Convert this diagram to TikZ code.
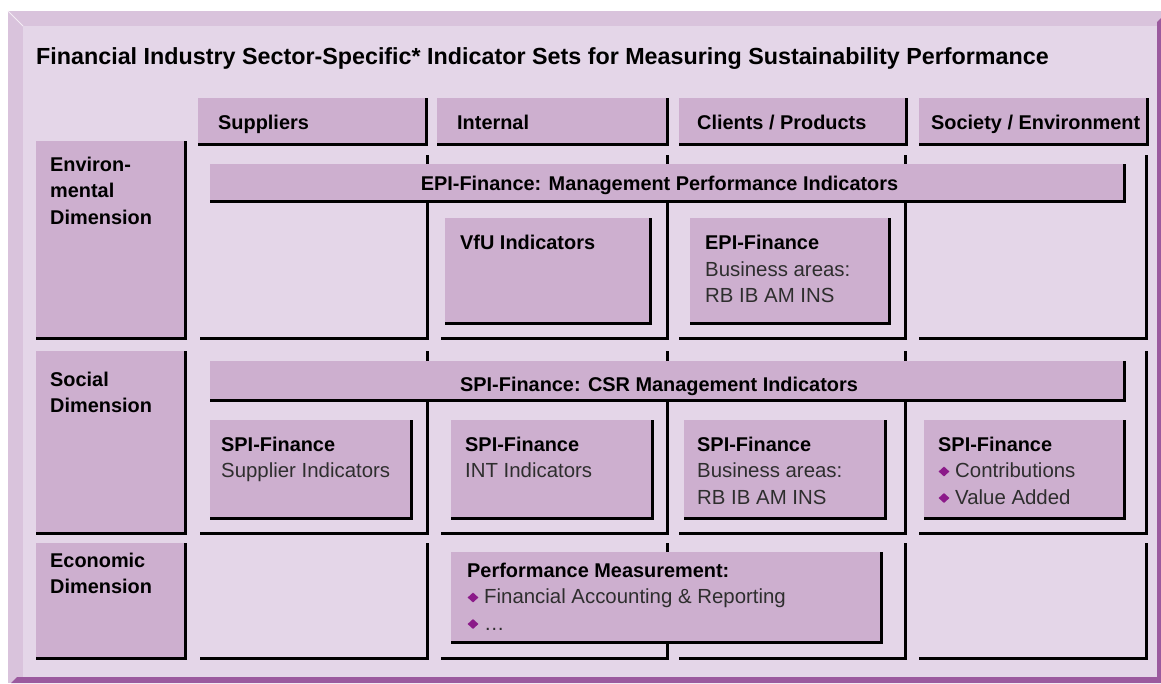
\documentclass[tikz,border=0pt]{standalone}
\usepackage{fontspec}
\setmainfont{Liberation Sans}
\usetikzlibrary{shapes.geometric}
\definecolor{panel}{HTML}{E4D6E8}
\definecolor{bevel}{HTML}{D9C3DC}
\definecolor{darkband}{HTML}{9B5A9E}
\definecolor{boxc}{HTML}{CDAFCF}
\definecolor{bulletc}{HTML}{8B1A89}
\definecolor{bodytext}{HTML}{2E2E2E}
\tikzset{
  filledbox/.style={fill=boxc, draw=none, inner sep=0pt, anchor=north west},
  emptybox/.style={fill=none, draw=none, inner sep=0pt, anchor=north west},
  edge/.style={draw=black, line width=2.4pt, line join=miter},
  titletext/.style={anchor=base west, inner sep=0pt, font=\bfseries\fontsize{23.3}{26}\selectfont},
  boldtext/.style={anchor=base west, inner sep=0pt, font=\bfseries\fontsize{19.9}{24}\selectfont},
  plaintext/.style={anchor=base west, inner sep=0pt, text=bodytext, font=\fontsize{20.4}{24}\selectfont},
  bulletmark/.style={shape=diamond, fill=bulletc, inner sep=0pt, minimum width=11pt, minimum height=10pt},
}
% name, x1, y1, x2, y2
\newcommand{\shadowbox}[5]{%
  \node[filledbox, minimum width={#4pt-#2pt}, minimum height={#5pt-#3pt}] (#1) at (#2,#3) {};
  \draw[edge] (#1.north east) -- (#1.south east) -- (#1.south west);}
\newcommand{\cellframe}[5]{%
  \node[emptybox, minimum width={#4pt-#2pt}, minimum height={#5pt-#3pt}] (#1) at (#2,#3) {};
  \draw[edge] (#1.north east) -- (#1.south east) -- (#1.south west);}
\begin{document}
\begin{tikzpicture}[x=1pt,y=-1pt]
\useasboundingbox (0,0) rectangle (1161,683);
% frame
\fill[white] (0,0) rectangle (1161,683);
\fill[bevel] (8,11) rectangle (1161,683);
\fill[darkband] (1157,22) -- (1161,18) -- (1161,683) -- (11,683) -- (17,677) -- (1157,677) -- cycle;
\fill[panel] (23,26) rectangle (1157,677);
\draw[white!70!bevel, line width=0.8pt] (8,11) -- (23,26);
% title
\node[titletext] (title) at (36,64) {Financial Industry Sector-Specific* Indicator Sets for Measuring Sustainability Performance};
% column headers
\shadowbox{hsup}{198}{98}{426}{144}
\shadowbox{hint}{437}{98}{667}{144}
\shadowbox{hcli}{679}{98}{906}{144}
\shadowbox{hsoc}{919}{98}{1147}{144}
\node[boldtext] (tsup) at (218,129) {Suppliers};
\node[boldtext] (tint) at (457,129) {Internal};
\node[boldtext] (tcli) at (697,129) {Clients / Products};
\node[boldtext] (tsoc) at (931,129) {Society / Environment};
% row labels
\shadowbox{renv}{36}{141}{185}{338}
\shadowbox{rsoc}{36}{351}{185}{533}
\shadowbox{reco}{36}{543}{185}{658}
\node[boldtext] (tenv1) at (50,171) {Environ-};
\node[boldtext] (tenv2) at (50,197.5) {mental};
\node[boldtext] (tenv3) at (50,224) {Dimension};
\node[boldtext] (tsoc1) at (50,386) {Social};
\node[boldtext] (tsoc2) at (50,412.5) {Dimension};
\node[boldtext] (teco1) at (50,567) {Economic};
\node[boldtext] (teco2) at (50,593.5) {Dimension};
% cell frames
\cellframe{c11}{200}{155}{427}{338}
\cellframe{c12}{441}{155}{667}{338}
\cellframe{c13}{679}{155}{905}{338}
\cellframe{c14}{919}{155}{1146}{338}
\cellframe{c21}{200}{351}{427}{533}
\cellframe{c22}{441}{351}{667}{533}
\cellframe{c23}{679}{351}{905}{533}
\cellframe{c24}{919}{351}{1146}{533}
\cellframe{c31}{200}{543}{427}{658}
\cellframe{c32}{441}{543}{667}{658}
\cellframe{c33}{679}{543}{905}{658}
\cellframe{c34}{919}{543}{1146}{658}
% environmental row
\shadowbox{epim}{210}{164}{1124}{201}
\node[boldtext, anchor=base] (tepim) at (659.5,190) {EPI-Finance: Management Performance Indicators};
\shadowbox{vfu}{445}{218}{650}{323}
\node[boldtext] (tvfu) at (460,249) {VfU Indicators};
\shadowbox{epib}{690}{218}{889}{323}
\node[boldtext] (tepib1) at (705,249) {EPI-Finance};
\node[plaintext] (tepib2) at (705,276) {Business areas:};
\node[plaintext] (tepib3) at (705,302.5) {RB IB AM INS};
% social row
\shadowbox{spim}{210}{361}{1124}{400}
\node[boldtext, anchor=base] (tspim) at (659,391) {SPI-Finance: CSR Management Indicators};
\shadowbox{spis}{210}{420}{411}{518}
\node[boldtext] (tspis1) at (221,451) {SPI-Finance};
\node[plaintext] (tspis2) at (221,477.5) {Supplier Indicators};
\shadowbox{spii}{451}{420}{652}{518}
\node[boldtext] (tspii1) at (465,451) {SPI-Finance};
\node[plaintext] (tspii2) at (465,477.5) {INT Indicators};
\shadowbox{spib}{684}{420}{885}{518}
\node[boldtext] (tspib1) at (697,451) {SPI-Finance};
\node[plaintext] (tspib2) at (697,477.5) {Business areas:};
\node[plaintext] (tspib3) at (697,504) {RB IB AM INS};
\shadowbox{spic}{924}{420}{1124}{518}
\node[boldtext] (tspic1) at (938,451) {SPI-Finance};
\node[bulletmark] (bspic2) at (944,471.5) {};
\node[plaintext] (tspic2) at (955,477.5) {Contributions};
\node[bulletmark] (bspic3) at (944,498) {};
\node[plaintext] (tspic3) at (955,504) {Value Added};
% economic row
\shadowbox{perf}{451}{552}{881}{642}
\node[boldtext] (tperf1) at (467,577) {Performance Measurement:};
\node[bulletmark] (bperf2) at (473,597.5) {};
\node[plaintext] (tperf2) at (484,603.5) {Financial Accounting \& Reporting};
\node[bulletmark] (bperf3) at (473,624) {};
\node[plaintext] (tperf3) at (484,630) {\ldots};
\end{tikzpicture}
\end{document}
